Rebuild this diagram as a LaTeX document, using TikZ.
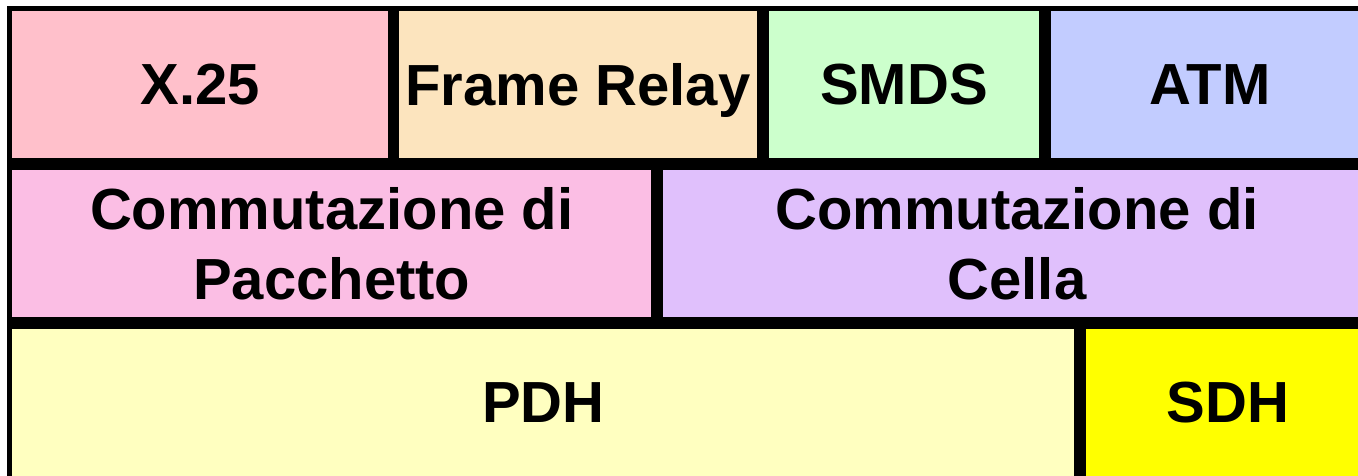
\documentclass[tikz,border=0pt]{standalone}
\usepackage{fontspec}
\setmainfont{Liberation Sans}
\definecolor{cX}{RGB}{255,192,203}
\definecolor{cFR}{RGB}{252,228,190}
\definecolor{cSMDS}{RGB}{204,255,204}
\definecolor{cATM}{RGB}{194,204,255}
\definecolor{cPk}{RGB}{251,190,228}
\definecolor{cCe}{RGB}{224,192,252}
\definecolor{cPDH}{RGB}{255,255,192}
\definecolor{cSDH}{RGB}{255,255,0}
\begin{document}
\begin{tikzpicture}[x=1pt,y=-1pt,
  cell/.style={draw=black, line width=5.5pt, inner sep=0pt, align=center,
    font=\fontsize{58}{70}\selectfont\bfseries},
  oneline/.style={cell, text depth=0pt}]
\useasboundingbox (0,0) rectangle (1358,476);
\clip (0,0) rectangle (1358,476);
% top row: services
\node[oneline, fill=cX,    minimum width=381pt, minimum height=152.5pt] (x25)  at (200,84.75)  {X.25};
\node[oneline, fill=cFR,   minimum width=364pt, minimum height=152.5pt] (fr)   at (578,84.75)  {Frame Relay};
\node[oneline, fill=cSMDS, minimum width=276pt, minimum height=152.5pt] (smds) at (904,84.75)  {SMDS};
\node[oneline, fill=cATM,  minimum width=324pt, minimum height=152.5pt] (atm)  at (1210,84.75) {ATM};
% middle row: switching
\node[cell, fill=cPk, minimum width=644.5pt, minimum height=153pt] (pkt) at (331.75,243.5) {Commutazione di\\Pacchetto};
\node[cell, fill=cCe, minimum width=714pt,   minimum height=153pt] (cel) at (1017,243.5)   {Commutazione di\\Cella};
% bottom row: transport
\node[oneline, fill=cPDH, minimum width=1067.5pt, minimum height=153pt] (pdh) at (543.25,402.5) {PDH};
\node[oneline, fill=cSDH, minimum width=290pt,    minimum height=153pt] (sdh) at (1228,402.5)   {SDH};
\end{tikzpicture}
\end{document}
